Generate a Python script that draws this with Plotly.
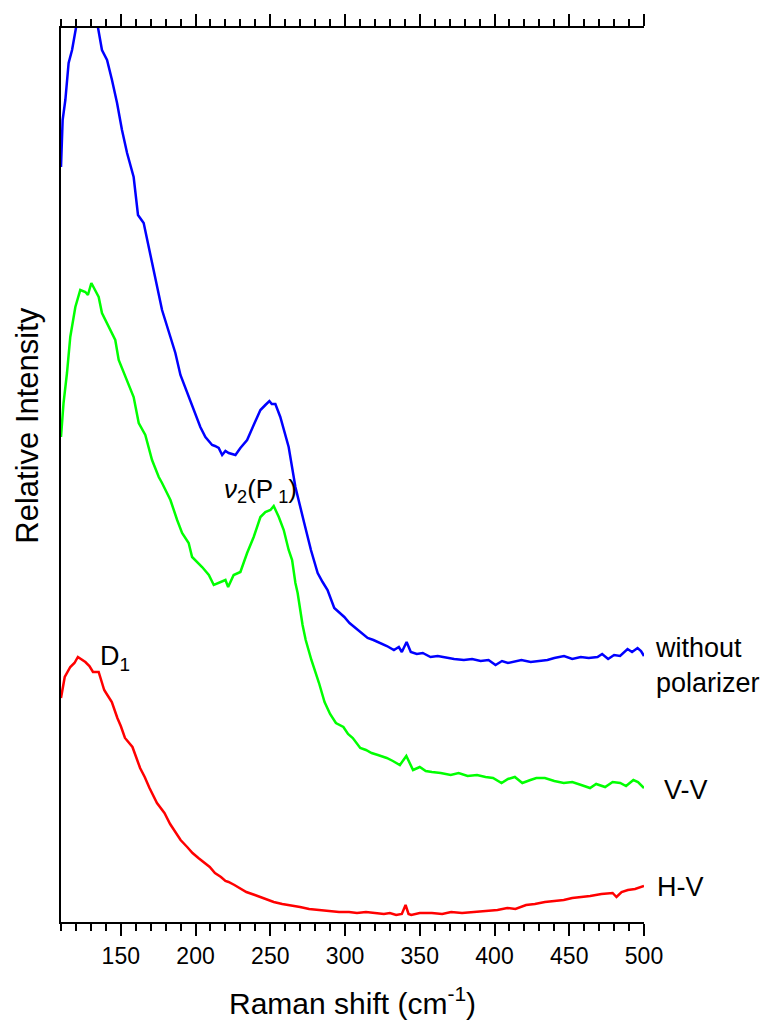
import plotly.graph_objects as go

# Raman shift (cm-1) and relative intensity (a.u.)
blue_x = [110, 111.1, 112.9, 115.1, 117.4, 120, 124, 127, 130, 134.8, 137.4, 140.8, 144.1, 147.5,
          150.8, 154.2, 158.6, 161.5, 165.3, 168.6, 170.9, 174.2, 177.6, 183.2, 186.5, 189.9,
          195.4, 199.9, 203.2, 206.6, 211.1, 213, 215.5, 217.8, 220, 222.2, 226.7, 230, 234.5,
          238.9, 243.4, 246.7, 249.4, 251, 253.4, 256.7, 260.1, 262.3, 266.8, 268.3, 272.7,
          277.2, 281.7, 285, 288.3, 292.8, 296, 299.5, 303, 306.2, 310, 315.1, 319, 323.7, 328,
          332.7, 336, 338, 341.2, 344, 348, 352, 357.2, 362, 368.4, 373, 379.5, 385, 390.7, 396,
          400.7, 405, 409, 413, 418, 424.2, 430, 435.4, 440, 446.5, 452, 457.7, 463, 468.9, 472,
          476, 480, 484, 489, 492, 495.7, 498, 500]
blue_y = [7.55, 8.02, 8.22, 8.59, 8.72, 8.94, 9.17, 9.22, 9.17, 8.94, 8.72, 8.62, 8.42, 8.19,
          7.92, 7.69, 7.45, 7.07, 6.99, 6.75, 6.59, 6.35, 6.12, 5.85, 5.69, 5.47,
          5.25, 5.09, 4.95, 4.85, 4.77, 4.76, 4.74, 4.67, 4.71, 4.69, 4.67, 4.74, 4.82,
          4.97, 5.12, 5.17, 5.21, 5.18, 5.18, 5.05, 4.85, 4.75, 4.35, 4.25, 3.99,
          3.72, 3.49, 3.40, 3.32, 3.14, 3.10, 3.05, 2.99, 2.95, 2.90, 2.84, 2.82, 2.79, 2.76,
          2.72, 2.75, 2.70, 2.80, 2.70, 2.68, 2.69, 2.65, 2.66, 2.64, 2.63, 2.62, 2.63, 2.61, 2.62,
          2.57, 2.61, 2.59, 2.60, 2.62, 2.60, 2.61, 2.62, 2.64, 2.66, 2.63, 2.65, 2.64, 2.65, 2.68,
          2.63, 2.67, 2.66, 2.73, 2.70, 2.74, 2.71, 2.66]

green_x = [110, 111.7, 114, 116.2, 119.6, 122.9, 126.3, 128, 130.3, 132.9, 135.2, 137.4, 141.9,
           146.3, 148.6, 154.2, 158.6, 162, 166.4, 170.9, 175.4, 177.6, 183.2, 187.7, 191,
           195.4, 197.7, 204.4, 208.9, 212.2, 216.6, 220, 221.8, 225.5, 230, 234.5, 238.9,
           243.4, 246.7, 250.1, 252.3, 255.7, 259, 262.3, 264.6, 266.8, 268.3, 271.6, 273.7,
           277.5, 282.6, 286.3, 290, 293.9, 298.9, 302, 305.2, 310.2, 314, 317.8, 322, 327.9,
           332, 336.7, 341, 345.5, 350, 354, 358.1, 364, 370.7, 376, 382, 388.3, 394, 399,
           404.7, 409, 413.6, 418.6, 424, 428, 433.7, 440, 446.3, 452, 458, 463.9, 468, 474,
           479, 484.1, 488, 492.9, 496, 500]
green_y = [4.85, 5.19, 5.49, 5.85, 6.15, 6.32, 6.30, 6.27, 6.39, 6.32, 6.25, 6.09, 5.95,
           5.82, 5.62, 5.42, 5.25, 4.99, 4.87, 4.62, 4.45, 4.39, 4.22, 4.02, 3.89,
           3.79, 3.65, 3.55, 3.47, 3.37, 3.40, 3.42, 3.35, 3.47, 3.50, 3.69, 3.85,
           4.05, 4.10, 4.12, 4.16, 4.05, 3.92, 3.72, 3.62, 3.39, 3.29, 2.97, 2.82,
           2.62, 2.39, 2.20, 2.08, 1.99, 1.95, 1.88, 1.84, 1.74, 1.72, 1.69, 1.67, 1.64,
           1.61, 1.57, 1.66, 1.52, 1.55, 1.51, 1.50, 1.49, 1.47, 1.49, 1.46, 1.47, 1.45, 1.44,
           1.39, 1.43, 1.45, 1.39, 1.42, 1.44, 1.44, 1.41, 1.39, 1.40, 1.37, 1.34, 1.38, 1.35,
           1.40, 1.39, 1.36, 1.42, 1.40, 1.34]

red_x = [110, 112.5, 116.2, 119, 121.3, 124, 126.3, 129, 131.4, 135.2, 138.9, 141, 144, 147.7,
         150, 152.8, 157.8, 160, 162.9, 166, 169.2, 174.2, 179.2, 183, 186.8, 190, 194.4, 198,
         201.9, 205, 209.5, 213, 217, 220, 222.1, 226, 229.6, 234, 239.7, 245, 252.3, 258,
         263, 269.9, 276, 282.6, 290, 296, 302.7, 308, 314, 320.3, 326, 330, 334.2, 338, 340.5,
         342.5, 344.3, 350, 358.1, 365, 371, 378.3, 385, 390, 395.9, 402, 408.5, 414, 421.1,
         427, 433.7, 440, 446.3, 452, 458.9, 464, 471.5, 476, 479, 481.6, 485, 489.2, 494, 500]
red_y = [2.24, 2.45, 2.55, 2.59, 2.65, 2.62, 2.60, 2.56, 2.50, 2.50, 2.32, 2.27, 2.20, 2.04,
         1.96, 1.84, 1.75, 1.66, 1.54, 1.45, 1.34, 1.19, 1.09, 0.98, 0.90, 0.82, 0.75, 0.69,
         0.64, 0.60, 0.55, 0.49, 0.45, 0.41, 0.40, 0.37, 0.34, 0.30, 0.27, 0.24, 0.20, 0.18,
         0.17, 0.15, 0.13, 0.12, 0.11, 0.10, 0.10, 0.09, 0.10, 0.09, 0.08, 0.09, 0.07, 0.08, 0.17,
         0.08, 0.07, 0.09, 0.09, 0.08, 0.10, 0.09, 0.10, 0.10, 0.11, 0.12, 0.14, 0.13, 0.17,
         0.18, 0.20, 0.21, 0.22, 0.24, 0.25, 0.26, 0.28, 0.29, 0.29, 0.25, 0.30, 0.32, 0.33, 0.36]

x_ticks = [150, 200, 250, 300, 350, 400, 450, 500]
x_range = [110, 500]
y_range = [0, 8.94]

FONT = "Arial, Liberation Sans, sans-serif"

fig = go.Figure()
for xs, ys, col in [(blue_x, blue_y, "#0000FF"), (green_x, green_y, "#00FF00"), (red_x, red_y, "#FF0000")]:
    fig.add_trace(go.Scatter(x=xs, y=ys, mode="lines", line=dict(color=col, width=2.5), showlegend=False))

fig.update_layout(
    width=760, height=1025,
    margin=dict(l=61, r=116, t=28, b=103),
    paper_bgcolor="white", plot_bgcolor="white",
    font=dict(family=FONT, color="black"),
    showlegend=False,
)
fig.update_xaxes(
    range=x_range, tickvals=x_ticks, ticks="outside", ticklen=12, tickwidth=2, tickcolor="black",
    minor=dict(dtick=10, tick0=110, ticks="outside", ticklen=7, tickwidth=2, tickcolor="black"),
    showline=True, linewidth=2, linecolor="black", mirror="ticks",
    showgrid=False, zeroline=False, tickfont=dict(size=23, family=FONT, color="black"),
)
fig.update_yaxes(
    range=y_range, showticklabels=False, ticks="", showline=True, linewidth=2, linecolor="black",
    showgrid=False, zeroline=False,
)

annos = [
    dict(text="Raman shift (cm<sup>-1</sup>)", xref="paper", yref="paper", x=0.5, y=-0.088,
         xanchor="center", yanchor="middle", font=dict(size=30)),
    dict(text="Relative Intensity", xref="paper", yref="paper", x=-0.057, y=0.556,
         xanchor="center", yanchor="middle", textangle=-90, font=dict(size=31)),
    dict(text="D<sub>1</sub>", xref="x", yref="y", x=135, y=2.64, xanchor="left", yanchor="middle",
         font=dict(size=27)),
    dict(text="<i>ν</i><sub>2</sub>(P<sub> 1</sub>)", xref="x", yref="y", x=218, y=4.32,
         xanchor="left", yanchor="middle", font=dict(size=26)),
    dict(text="without<br>polarizer", xref="paper", yref="paper", x=1.0154, y=(922 - 665) / 894,
         xanchor="left", yanchor="middle", align="left", font=dict(size=27)),
    dict(text="V-V", xref="paper", yref="paper", x=(662 - 61) / 583, y=(922 - 790) / 894,
         xanchor="left", yanchor="middle", font=dict(size=27)),
    dict(text="H-V", xref="paper", yref="paper", x=(655 - 61) / 583, y=(922 - 887) / 894,
         xanchor="left", yanchor="middle", font=dict(size=27)),
]
for a in annos:
    a.setdefault("showarrow", False)
    a["font"]["family"] = FONT
    a["font"]["color"] = "black"
fig.update_layout(annotations=annos)

fig.write_html("out.html")
